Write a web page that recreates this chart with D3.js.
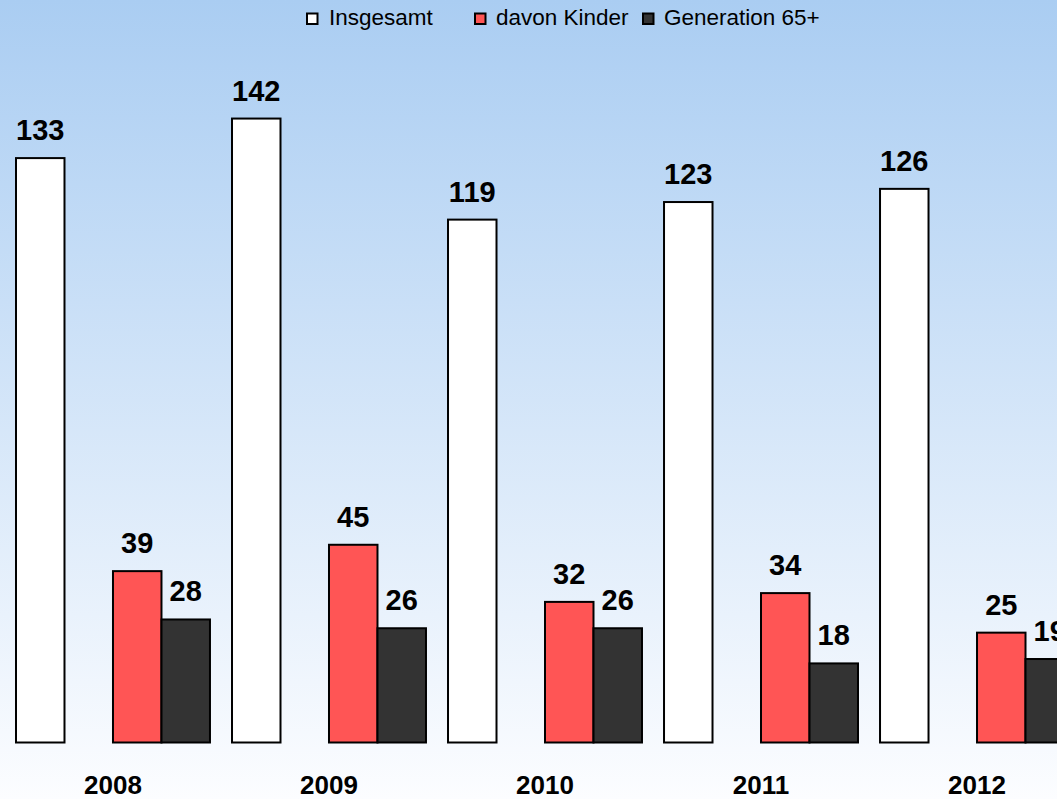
<!DOCTYPE html>
<html>
<head>
<meta charset="utf-8">
<script src="https://cdn.jsdelivr.net/npm/d3@7"></script>
<style>
  body { margin: 0; overflow: hidden; }
  svg { display: block; font-family: "Liberation Sans", Arial, sans-serif; }
</style>
</head>
<body>
<div id="chart"></div>
<script>
// data
const years = ["2008", "2009", "2010", "2011", "2012"];
const insgesamt = [133, 142, 119, 123, 126];
const kinder = [39, 45, 32, 34, 25];
const generation65 = [28, 26, 26, 18, 19];
const seriesNames = ["Insgesamt", "davon Kinder", "Generation 65+"];
const seriesColors = ["#ffffff", "#ff5555", "#333333"];

const width = 1057, height = 799;

let svg = d3.select("#chart")
    .append("svg")
    .attr("width", width)
    .attr("height", height);

// background gradient
let grad = svg.append("defs").append("linearGradient")
    .attr("id", "bg")
    .attr("x1", 0).attr("y1", 0).attr("x2", 0).attr("y2", 1);
grad.append("stop").attr("offset", "0%").attr("stop-color", "#aacdf2");
grad.append("stop").attr("offset", "100%").attr("stop-color", "#fcfdff");
svg.append("rect").attr("width", width).attr("height", height).attr("fill", "url(#bg)");

// one empty slot between Insgesamt and the other two, as in the original
let slots = ["Insgesamt", "_gap", "davon Kinder", "Generation 65+"];

let x0 = d3.scaleBand()
    .domain(years)
    .range([16, 1074])
    .paddingInner(0.102)
    .paddingOuter(0);

let x1 = d3.scaleBand()
    .domain(slots)
    .range([0, x0.bandwidth()]);

let y = d3.scaleLinear()
    .domain([0, 160])
    .range([742.5, 742.5 - 160 * 4.394]);

let data = [];
years.forEach(function(yr, i) {
    data.push({year: yr, series: seriesNames[0], value: insgesamt[i], color: seriesColors[0]});
    data.push({year: yr, series: seriesNames[1], value: kinder[i], color: seriesColors[1]});
    data.push({year: yr, series: seriesNames[2], value: generation65[i], color: seriesColors[2]});
});

let bars = svg.append("g");
bars.selectAll("rect").data(data)
    .enter()
    .append("rect")
    .attr("x", function(d) { return x0(d.year) + x1(d.series); })
    .attr("y", function(d) { return y(d.value); })
    .attr("width", x1.bandwidth())
    .attr("height", function(d) { return y(0) - y(d.value); })
    .attr("fill", function(d) { return d.color; })
    .attr("stroke", "#000")
    .attr("stroke-width", 2);

svg.append("g").selectAll("text").data(data)
    .enter()
    .append("text")
    .attr("x", function(d) { return x0(d.year) + x1(d.series) + x1.bandwidth() / 2; })
    .attr("y", function(d) { return y(d.value) - 18; })
    .style("text-anchor", "middle")
    .style("font-size", "29px")
    .style("font-weight", "bold")
    .attr("fill", "#000")
    .text(function(d) { return d.value; });

// year labels
svg.append("g")
    .attr("transform", "translate(0, 794)")
    .call(d3.axisBottom(x0).tickSize(0).tickPadding(0))
    .call(function(g) { g.select(".domain").remove(); })
    .selectAll("text")
    .attr("dy", 0)
    .attr("y", 0)
    .style("font-size", "26px")
    .style("font-weight", "bold")
    .style("font-family", "'Liberation Sans', Arial, sans-serif")
    .attr("fill", "#000");

// legend
let legendX = [306, 474, 642];
let legend = svg.append("g").selectAll("g").data(seriesNames)
    .enter()
    .append("g")
    .attr("transform", function(d, i) { return `translate(${legendX[i]}, 0)`; });

legend.append("rect")
    .attr("x", 1).attr("y", 13.5)
    .attr("width", 10.5).attr("height", 10.5)
    .attr("fill", function(d, i) { return seriesColors[i]; })
    .attr("stroke", "#000")
    .attr("stroke-width", 2);

legend.append("text")
    .attr("x", function(d, i) { return i === 0 ? 23 : 22; })
    .attr("y", 25)
    .style("font-size", "22.5px")
    .attr("fill", "#000")
    .text(function(d) { return d; });
</script>
</body>
</html>
